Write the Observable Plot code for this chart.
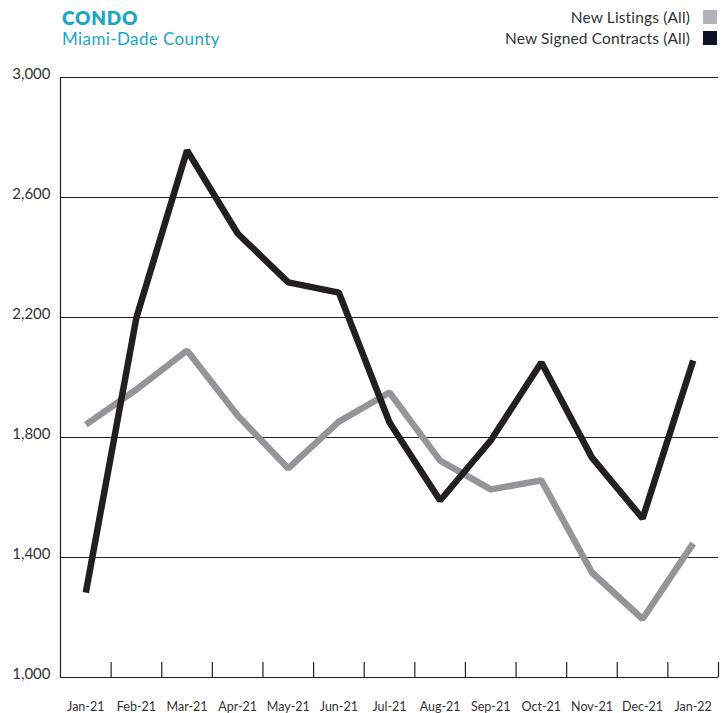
<!DOCTYPE html>
<html>
<head>
<meta charset="utf-8">
<script src="https://cdn.jsdelivr.net/npm/d3@7"></script>
<script src="https://cdn.jsdelivr.net/npm/@observablehq/plot@0.6"></script>
<style>
  html, body { margin: 0; padding: 0; background: #fff; }
  body { width: 726px; height: 713px; position: relative; overflow: hidden; font-family: "Lato", "Open Sans", sans-serif; }
  #header { position: absolute; left: 0; top: 0; width: 726px; height: 60px; }
  .title { position: absolute; left: 62px; top: 6px; font-size: 19px; font-weight: 800; color: #1aa7c5; letter-spacing: 0.8px; }
  .subtitle { position: absolute; left: 62px; top: 28px; font-size: 17px; color: #1aa7c5; letter-spacing: 0.4px; }
  .legend { position: absolute; right: 9px; top: 6px; font-size: 15.5px; color: #333; letter-spacing: 0.15px; }
  .legend .row { display: flex; align-items: center; justify-content: flex-end; height: 21px; }
  .legend .sw { width: 14px; height: 14px; margin-left: 13px; display: inline-block; }
  #chart { position: absolute; left: 0; top: 60px; }
</style>
</head>
<body>
<div id="header">
  <div class="title">CONDO</div>
  <div class="subtitle">Miami-Dade County</div>
  <div class="legend" id="legend"></div>
</div>
<div id="chart"></div>
<script>
const months = ["Jan-21","Feb-21","Mar-21","Apr-21","May-21","Jun-21","Jul-21","Aug-21","Sep-21","Oct-21","Nov-21","Dec-21","Jan-22"];
const newListings = [1843, 1960, 2090, 1873, 1697, 1853, 1950, 1723, 1627, 1657, 1350, 1195, 1447];
const newSignedContracts = [1283, 2200, 2757, 2480, 2317, 2283, 1850, 1590, 1790, 2050, 1733, 1530, 2057];
const yTicks = [1000, 1400, 1800, 2200, 2600, 3000];
const seriesNames = ["New Listings (All)", "New Signed Contracts (All)"];
const lineColors = ["#939598", "#231f20"];
const swatchColors = ["#b1b3b8", "#0e1228"];

const legend = document.getElementById("legend");
seriesNames.forEach((n, i) => {
  const row = document.createElement("div");
  row.className = "row";
  row.innerHTML = `<span>${n}</span><span class="sw" style="background:${swatchColors[i]}"></span>`;
  legend.appendChild(row);
});

const listings = months.map((m, i) => ({i, m, v: newListings[i]}));
const contracts = months.map((m, i) => ({i, m, v: newSignedContracts[i]}));
const boundaries = d3.range(months.length).map(i => i + 0.5);

const chart = Plot.plot({
  width: 726,
  height: 653,
  marginLeft: 60,
  marginRight: 8,
  marginTop: 17,
  marginBottom: 36,
  style: { fontFamily: "Lato, 'Open Sans', sans-serif", fontSize: "13px", color: "#333" },
  x: { domain: [-0.5, months.length - 0.5], axis: null, label: null },
  y: { domain: [1000, 3000], axis: null, label: null },
  marks: [
    Plot.ruleY(yTicks, { stroke: "#231f20", strokeWidth: 1.2, strokeOpacity: 1 }),
    Plot.ruleX([-0.5], { y1: 1000, y2: 3000, stroke: "#231f20", strokeWidth: 1.2 }),
    Plot.ruleX(boundaries, { y1: 1000, y2: 1050, stroke: "#231f20", strokeWidth: 1.2 }),
    Plot.line(listings, { x: "i", y: "v", stroke: lineColors[0], strokeWidth: 6.5, strokeLinejoin: "miter", strokeLinecap: "butt" }),
    Plot.line(contracts, { x: "i", y: "v", stroke: lineColors[1], strokeWidth: 6.5, strokeLinejoin: "miter", strokeLinecap: "butt" }),
    Plot.axisY(yTicks, { label: null, tickSize: 0, tickPadding: 10, dy: -3, tickFormat: d3.format(","), fontSize: 15, fill: "#333", style: { letterSpacing: "1px" } }),
    Plot.axisX(d3.range(months.length), { label: null, tickSize: 0, tickPadding: 25, tickFormat: i => months[i], fontSize: 12.5, fill: "#333" })
  ]
});
document.getElementById("chart").appendChild(chart);
</script>
</body>
</html>
